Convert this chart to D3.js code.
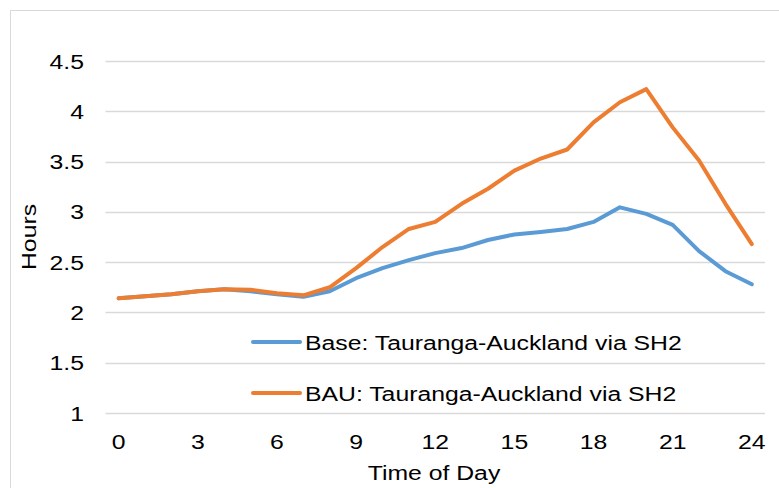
<!DOCTYPE html>
<html><head><meta charset="utf-8">
<script src="https://cdn.jsdelivr.net/npm/d3@7"></script>
<style>body{margin:0;background:#fff}svg{display:block;font-family:"Liberation Sans",Arial,sans-serif}</style>
</head><body>
<svg id="c" width="779" height="488"></svg>
<script>
const hours = d3.range(0, 25);
const xTickLabels = [0, 3, 6, 9, 12, 15, 18, 21, 24];
const yTicks = [1, 1.5, 2, 2.5, 3, 3.5, 4, 4.5];
const baseValues = [2.14,2.16,2.18,2.21,2.23,2.21,2.18,2.155,2.21,2.34,2.44,2.52,2.59,2.64,2.72,2.775,2.80,2.83,2.90,3.045,2.98,2.87,2.61,2.41,2.28];
const bauValues  = [2.14,2.16,2.18,2.21,2.23,2.225,2.19,2.17,2.25,2.44,2.65,2.83,2.90,3.08,3.23,3.41,3.53,3.62,3.89,4.09,4.22,3.84,3.51,3.08,2.68];
const seriesNames = ["Base: Tauranga-Auckland via SH2", "BAU: Tauranga-Auckland via SH2"];
const colors = ["#5B9BD5", "#ED7D31"];

const svg = d3.select("#c");
const SX = 1.18, FS = 21;
svg.append("rect").attr("x",10.5).attr("y",10.5).attr("width",800).attr("height",500)
  .attr("fill","#fff").attr("stroke","#d9d9d9");

const x = d3.scalePoint().domain(hours).range([105.5, 765]).padding(0.5);
const y = d3.scaleLinear().domain([1, 4.5]).range([413, 61]);

// gridlines
svg.append("g").selectAll("line").data(yTicks).join("line")
  .attr("x1",105.5).attr("x2",765).attr("y1",d=>Math.round(y(d))+0.5).attr("y2",d=>Math.round(y(d))+0.5)
  .attr("stroke","#d9d9d9").attr("stroke-width",1.3);

function stretchedText(g, tx, ty, anchor, txt) {
  return g.append("text").attr("transform",`translate(${tx},${ty}) scale(${SX},1)`)
    .attr("text-anchor",anchor).attr("font-size",FS).attr("fill","#000").text(txt);
}
// y ticks
const gy = svg.append("g");
yTicks.forEach(t => stretchedText(gy, 84, y(t)+7.5, "end", d3.format("")(t)));
// x ticks
const gx = svg.append("g");
xTickLabels.forEach(t => stretchedText(gx, x(t), 449, "middle", t));
// axis titles
stretchedText(svg, 434, 480, "middle", "Time of Day");
svg.append("text").attr("transform",`translate(36,237) rotate(-90) scale(${SX},1)`)
  .attr("text-anchor","middle").attr("font-size",FS).attr("fill","#000").text("Hours");

const line = d3.line().x((d,i)=>x(hours[i])).y(d=>y(d));
[baseValues, bauValues].forEach((vals,i)=>{
  svg.append("path").attr("d",line(vals)).attr("fill","none").attr("stroke",colors[i])
    .attr("stroke-width",4).attr("stroke-linejoin","round").attr("stroke-linecap","round");
});

// legend
const legY = [342, 393];
seriesNames.forEach((n,i)=>{
  svg.append("line").attr("x1",253).attr("x2",300).attr("y1",legY[i]).attr("y2",legY[i])
    .attr("stroke",colors[i]).attr("stroke-width",4).attr("stroke-linecap","round");
  stretchedText(svg, 305, legY[i]+7.5, "start", n);
});
</script>
</body></html>
